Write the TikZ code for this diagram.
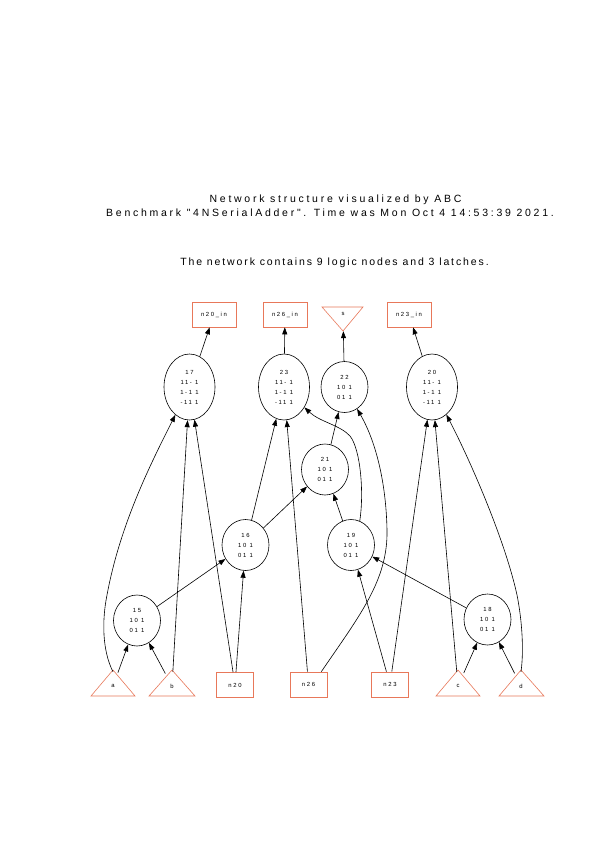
\documentclass[tikz,border=0pt]{standalone}
\usepackage{fontspec}
\setmainfont{Liberation Sans}
\newfontfamily\hdrfont[LetterSpace=26]{Liberation Sans}
\newfontfamily\hdrfontb[LetterSpace=18]{Liberation Sans}
\newfontfamily\lblfont[LetterSpace=28]{Liberation Sans}
\usetikzlibrary{shapes.geometric,arrows.meta}
\definecolor{pio}{RGB}{232,120,90}
\begin{document}
\begin{tikzpicture}[x=1pt,y=-1pt,
  lbl/.style={font=\lblfont\fontsize{5.9}{10}\selectfont},
  logic/.style={lbl, draw, ellipse, inner sep=0pt, align=center, line width=0.6pt},
  big/.style={logic, minimum width=51pt, minimum height=66pt},
  small/.style={logic, minimum width=47pt, minimum height=51pt},
  iobox/.style={lbl, draw=pio, rectangle, minimum width=44pt, minimum height=25pt, inner sep=0pt, line width=0.6pt},
  pibox/.style={iobox, minimum width=37pt},
  tri/.style={lbl, circle, minimum size=28pt, inner sep=0pt},
  trishape/.style={draw=pio, line width=0.6pt, line join=miter},
  edge/.style={-{Triangle[length=7pt,width=5pt]}, line width=0.6pt},
  hdr/.style={font=\hdrfont\fontsize{10.5}{13}\selectfont, inner sep=0pt},
  hdrb/.style={font=\hdrfontb\fontsize{10.5}{13}\selectfont, inner sep=0pt}
]
\useasboundingbox (0,0) rectangle (595,842);
\fill[white] (0,0) rectangle (595,842);

% header
\node[hdr] (t1) at (335.5,200) {Network structure visualized by ABC};
\node[hdr] (t2) at (330,213) {Benchmark "4NSerialAdder". Time was Mon Oct  4 14:53:39 2021.};
\node[hdrb] (t3) at (334.5,263) {The network contains 9 logic nodes and 3 latches.};

% outputs
\node[iobox] (n20in) at (214,314.5) {n20\_in};
\node[iobox] (n26in) at (285,314.5) {n26\_in};
\draw[trishape] (322,307) -- (363,307) -- (343,331) -- cycle;
\node[tri, minimum size=34pt] (sout) at (343,314) {s};
\node[iobox] (n23in) at (409,314.5) {n23\_in};

% logic nodes
\node[big] (g17) at (189.5,387) {17\\11- 1\\1-1 1\\-11 1};
\node[big] (g23) at (284,387) {23\\11- 1\\1-1 1\\-11 1};
\node[small] (g22) at (344.5,387) {22\\10 1\\01 1};
\node[big] (g20) at (432,387) {20\\11- 1\\1-1 1\\-11 1};
\node[small] (g21) at (325,469.5) {21\\10 1\\01 1};
\node[small] (g16) at (245.5,545) {16\\10 1\\01 1};
\node[small] (g19) at (351,545) {19\\10 1\\01 1};
\node[small] (g15) at (137,620.5) {15\\10 1\\01 1};
\node[small] (g18) at (487.5,619.5) {18\\10 1\\01 1};

% inputs
\draw[trishape] (91,696) -- (113,670) -- (135,696) -- cycle;
\node[tri] (pa) at (113,686) {a};
\draw[trishape] (149,696) -- (172,670) -- (195,696) -- cycle;
\node[tri] (pb) at (172,686) {b};
\node[pibox] (pn20) at (235,685) {n20};
\node[pibox] (pn26) at (308.5,684.5) {n26};
\node[pibox] (pn23) at (390,684.5) {n23};
\draw[trishape] (436,696) -- (458,670) -- (480,696) -- cycle;
\node[tri] (pc) at (458,686) {c};
\draw[trishape] (499,696) -- (521,670) -- (544,696) -- cycle;
\node[tri] (pd) at (521,686) {d};

% edges to outputs
\draw[edge] (g17) -- (n20in);
\draw[edge] (g23) -- (n26in);
\draw[edge] (g22) -- (sout);
\draw[edge] (g20) -- (n23in);

% edges
\draw[edge] (pa) -- (g15);
\draw[edge] (pb) -- (g15);
\draw[edge] (pc) -- (g18);
\draw[edge] (pd) -- (g18);
\draw[edge] (g15) -- (g16);
\draw[edge] (pn20) -- (g16);
\draw[edge] (g16) -- (g21);
\draw[edge] (g16) -- (g23);
\draw[edge] (g19) -- (g21);
\draw[edge] (g21) -- (g22);
\draw[edge] (g18) -- (g19);
\draw[edge] (pn23) -- (g19);
\draw[edge] (pb) -- (g17);
\draw[edge] (pn20) -- (g17);
\draw[edge] (pn26) -- (g23);
\draw[edge] (pn23) -- (g20);
\draw[edge] (pc) -- (g20);

% curved edges
\draw[edge] (pa.north) .. controls (102,650) and (102,620) .. (107,595)
  .. controls (120,525) and (150,465) .. (g17);
\draw[edge] (pd.north) .. controls (524,650) and (522,620) .. (517,595)
  .. controls (505,540) and (470,460) .. (g20);
\draw[edge] (g19.70) .. controls (364,495) and (361,450) .. (350,436)
  .. controls (340,425) and (320,422) .. (g23.-45);
\draw[edge] (pn26.45) .. controls (360,615) and (388,580) .. (387,530)
  .. controls (386,480) and (375,440) .. (g22);
\end{tikzpicture}
\end{document}
